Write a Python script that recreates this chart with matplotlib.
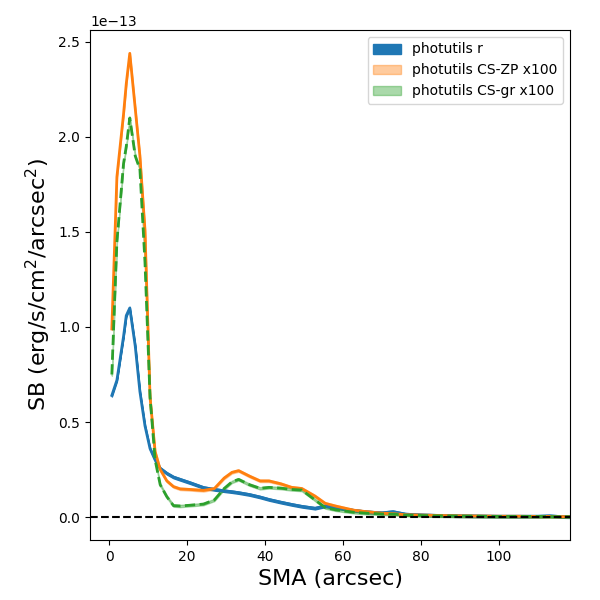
import matplotlib
matplotlib.use("Agg")
import matplotlib.pyplot as plt
import matplotlib.patches as mpatches
import numpy as np

# semi-major axis (arcsec)
sma = [0.7, 2.0, 3.7, 4.4, 5.3, 6.7, 7.9, 9.2, 10.5, 11.8, 13.1, 14.8, 16.5,
       18.2, 20.8, 24.2, 27.0, 29.5, 31.5, 33.2, 36.0, 38.7, 41.0, 44.0, 46.8,
       49.4, 52.8, 55.4, 58.0, 62.7, 66.0, 70.0, 72.8, 76.0, 80.0, 85.0, 90.0,
       95.0, 100.0, 105.0, 110.0, 113.0, 116.0, 119.0]

# surface brightness, units of 1e-13
sb_r = [0.64, 0.72, 0.95, 1.06, 1.10, 0.90, 0.66, 0.48, 0.36, 0.30, 0.256, 0.23, 0.21,
        0.198, 0.18, 0.155, 0.145, 0.138, 0.133, 0.128, 0.118, 0.105, 0.092, 0.078, 0.066,
        0.056, 0.046, 0.058, 0.05, 0.035, 0.027, 0.022, 0.028, 0.015, 0.011, 0.008, 0.006,
        0.005, 0.004, 0.004, 0.004, 0.006, 0.002, 0.001]
sb_zp = [0.99, 1.79, 2.12, 2.28, 2.44, 2.15, 1.90, 1.51, 0.63, 0.344, 0.25, 0.19, 0.16,
         0.148, 0.145, 0.14, 0.15, 0.205, 0.235, 0.244, 0.215, 0.19, 0.19, 0.175, 0.156,
         0.15, 0.11, 0.072, 0.058, 0.036, 0.028, 0.02, 0.018, 0.012, 0.01, 0.008, 0.006,
         0.005, 0.004, 0.004, 0.003, 0.003, 0.002, 0.002]
sb_gr = [0.75, 1.45, 1.86, 1.95, 2.10, 1.90, 1.83, 1.34, 0.63, 0.30, 0.17, 0.107, 0.06,
         0.058, 0.062, 0.068, 0.09, 0.15, 0.185, 0.198, 0.17, 0.151, 0.156, 0.152, 0.145,
         0.142, 0.09, 0.05, 0.038, 0.025, 0.02, 0.016, 0.015, 0.01, 0.008, 0.006, 0.005,
         0.004, 0.003, 0.003, 0.003, 0.002, 0.002, 0.001]

x = np.array(sma)
r = np.array(sb_r) * 1e-13
zp = np.array(sb_zp) * 1e-13
gr = np.array(sb_gr) * 1e-13
err = 0.006e-13

fig = plt.figure(figsize=(6, 6), dpi=100)
ax = fig.add_axes([0.15, 0.1, 0.8, 0.85])

ax.fill_between(x, r - err, r + err, color='C0', alpha=1.0)
ax.fill_between(x, zp - err, zp + err, color='C1', alpha=0.4)
ax.fill_between(x, gr - err, gr + err, color='C2', alpha=0.4)
ax.plot(x, r, color='C0', lw=2)
ax.plot(x, zp, color='C1', lw=2)
ax.plot(x, gr, color='C2', lw=2, ls='--')
ax.axhline(0, color='k', ls='--', lw=1.5)

handles = [mpatches.Patch(color='C0', label='photutils r'),
           mpatches.Patch(color='C1', alpha=0.4, label='photutils CS-ZP x100'),
           mpatches.Patch(color='C2', alpha=0.4, label='photutils CS-gr x100')]
ax.legend(handles=handles, loc='upper right')

ax.set_xlim(-4.9, 118.2)
ax.set_ylim(-0.121e-13, 2.563e-13)
ax.set_xlabel('SMA (arcsec)', fontsize=16)
ax.set_ylabel('SB (erg/s/cm$^2$/arcsec$^2$)', fontsize=16)

fig.savefig('out.png')
